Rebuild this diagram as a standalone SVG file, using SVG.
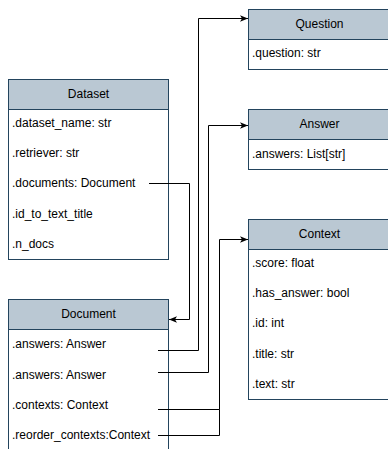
<svg xmlns="http://www.w3.org/2000/svg" width="388" height="449" viewBox="0 0 388 449">
  <style>
    .body { fill: #ffffff; stroke: #23445d; stroke-width: 1; }
    .head { fill: #bac8d3; stroke: #23445d; stroke-width: 1; }
    .title { font-family: "Liberation Sans", Arial, Helvetica, sans-serif; font-size: 12px; fill: #000000; text-anchor: middle; dominant-baseline: central; }
    .row { font-family: "Liberation Sans", Arial, Helvetica, sans-serif; font-size: 12px; fill: #000000; dominant-baseline: central; }
    .edge { fill: none; stroke: #000000; stroke-width: 1; }
  </style>
  <defs>
    <marker id="arrow" viewBox="0 0 10 10" refX="10" refY="5" markerWidth="8" markerHeight="8" markerUnits="userSpaceOnUse" orient="auto">
      <path d="M0,1 L10,5 L0,9 L2.5,5 z" fill="#000000"/>
    </marker>
  </defs>

  <g id="Dataset">
    <rect class="body" x="8.5" y="79.5" width="160" height="180"/>
    <rect class="head" x="8.5" y="79.5" width="160" height="30"/>
    <text class="title" x="88.5" y="94">Dataset</text>
    <text class="row" x="12" y="123">.dataset_name: str</text>
    <text class="row" x="12" y="153">.retriever: str</text>
    <text class="row" x="12" y="183">.documents: Document</text>
    <text class="row" x="12" y="214">.id_to_text_title</text>
    <text class="row" x="12" y="244">.n_docs</text>
  </g>

  <g id="Document">
    <rect class="body" x="8.5" y="299.5" width="160" height="160"/>
    <rect class="head" x="8.5" y="299.5" width="160" height="30"/>
    <text class="title" x="88.5" y="314">Document</text>
    <text class="row" x="12" y="344">.answers: Answer</text>
    <text class="row" x="12" y="375">.answers: Answer</text>
    <text class="row" x="12" y="405">.contexts: Context</text>
    <text class="row" x="12" y="435">.reorder_contexts:Context</text>
  </g>

  <g id="Question">
    <rect class="body" x="248.5" y="9.5" width="150" height="60"/>
    <rect class="head" x="248.5" y="9.5" width="150" height="30"/>
    <text class="title" x="319.5" y="24">Question</text>
    <text class="row" x="252" y="53">.question: str</text>
  </g>

  <g id="Answer">
    <rect class="body" x="248.5" y="109.5" width="150" height="60"/>
    <rect class="head" x="248.5" y="109.5" width="150" height="30"/>
    <text class="title" x="319.5" y="124">Answer</text>
    <text class="row" x="252" y="154">.answers: List[str]</text>
  </g>

  <g id="Context">
    <rect class="body" x="248.5" y="219.5" width="150" height="180"/>
    <rect class="head" x="248.5" y="219.5" width="150" height="30"/>
    <text class="title" x="319.5" y="234">Context</text>
    <text class="row" x="252" y="263">.score: float</text>
    <text class="row" x="252" y="293">.has_answer: bool</text>
    <text class="row" x="252" y="323">.id: int</text>
    <text class="row" x="252" y="354">.title: str</text>
    <text class="row" x="252" y="384">.text: str</text>
  </g>

  <g id="connectors">
    <path class="edge" d="M149,183.5 H189.5 V319.5 H169" marker-end="url(#arrow)"/>
    <path class="edge" d="M158,350.5 H198.5 V18.5 H248" marker-end="url(#arrow)"/>
    <path class="edge" d="M158,372.5 H208.5 V125.5 H248" marker-end="url(#arrow)"/>
    <path class="edge" d="M158,409.5 H219.5 V239.5 H248" marker-end="url(#arrow)"/>
    <path class="edge" d="M158,435.5 H219.5 V409.5"/>
  </g>
</svg>
